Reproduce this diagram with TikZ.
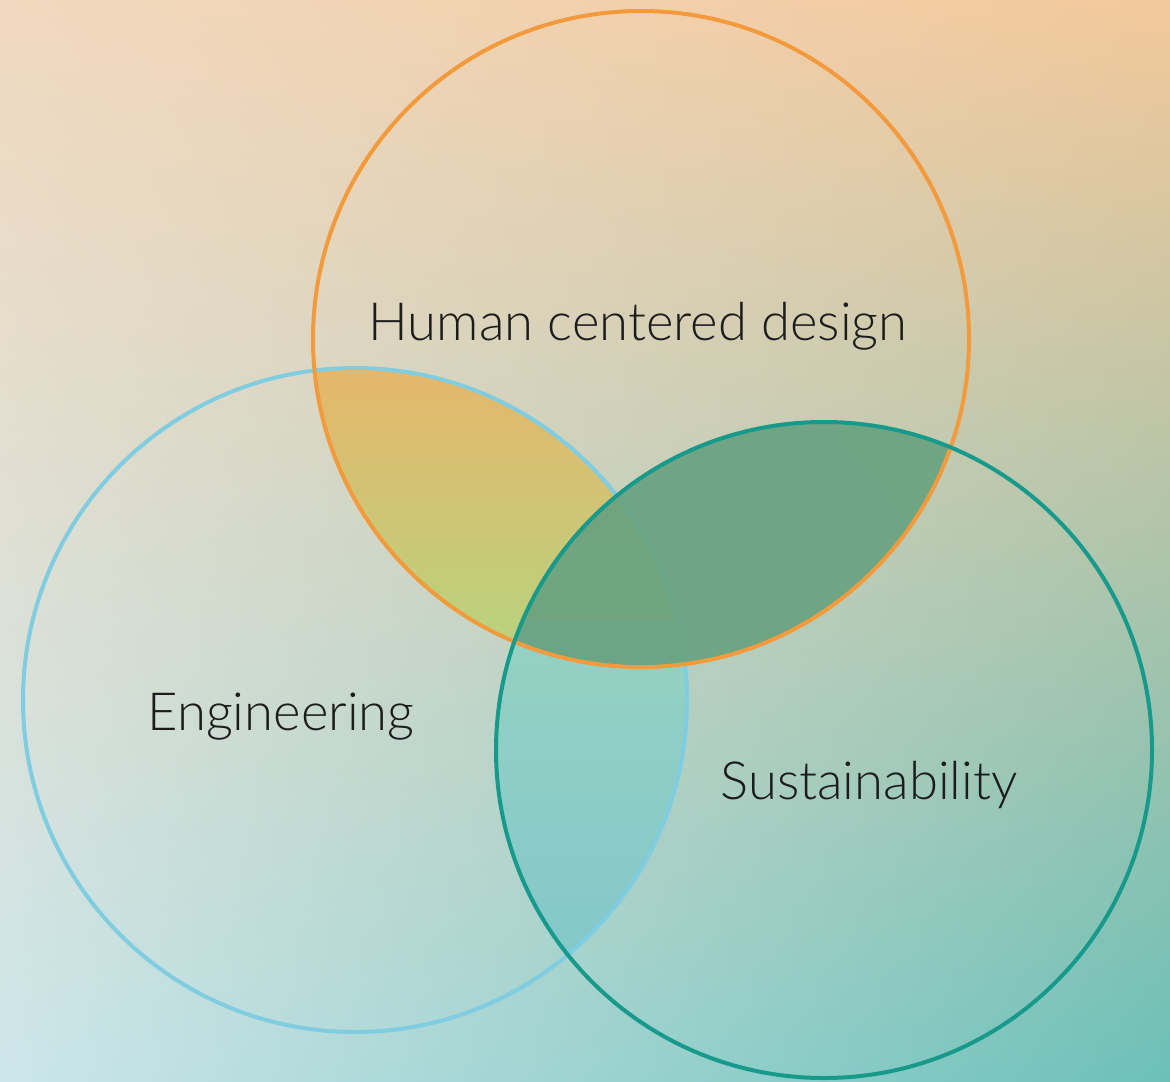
\documentclass[tikz,border=0pt]{standalone}
\usepackage{fontspec}
\setmainfont{Lato}[UprightFont=* Light]
\usetikzlibrary{shadings}
\definecolor{bgul}{HTML}{F1D9BF}
\definecolor{bgur}{HTML}{F3C89B}
\definecolor{bgll}{HTML}{CDE6EA}
\definecolor{bglr}{HTML}{6CC0B8}
\definecolor{hcdline}{HTML}{F29A3C}
\definecolor{engline}{HTML}{80CCE0}
\definecolor{susline}{HTML}{179A8B}
\definecolor{heTop}{HTML}{E7B66A}
\definecolor{heBot}{HTML}{B8D37E}
\definecolor{esTop}{HTML}{96D2C2}
\definecolor{esBot}{HTML}{82C7CA}
\definecolor{hsFill}{HTML}{68A280}
\definecolor{ink}{HTML}{1C1C1C}

\begin{document}
\begin{tikzpicture}
    [x=0.5pt, y=-0.5pt,
    ring/.style={line width=2pt},
    tag/.style={anchor=base, inner sep=0pt, text=ink,
      font=\fontsize{26.3}{30}\selectfont}]
    \useasboundingbox (0,0) rectangle (1170,1081);
    \shade[upper left=bgul, upper right=bgur,
      lower left=bgll, lower right=bglr] (0,0) rectangle (1170,1081);
    \coordinate (hcd) at (641,339);
    \coordinate (eng) at (355,700);
    \coordinate (sus) at (824,750);
    % overlaps
    \begin{scope}
      \clip (hcd) circle [radius=328];
      \clip (eng) circle [radius=332];
      \shade[top color=heTop, bottom color=heBot]
        (300,360) rectangle (700,650);
    \end{scope}
    \begin{scope}
      \clip (eng) circle [radius=332];
      \clip (sus) circle [radius=328];
      \shade[top color=esTop, bottom color=esBot]
        (490,620) rectangle (700,970);
    \end{scope}
    \draw[ring, engline] (eng) circle [radius=332];
    \begin{scope}
      \clip (hcd) circle [radius=328];
      \fill[hsFill, opacity=0.92] (sus) circle [radius=328];
    \end{scope}
    \draw[ring, hcdline] (hcd) circle [radius=328];
    \draw[ring, susline] (sus) circle [radius=328];
    % labels
    \node[tag] (hcdtag) at (638,340) {Human centered design};
    \node[tag] (engtag) at (281,730) {Engineering};
    \node[tag] (sustag) at (869,799) {Sustainability};
  \end{tikzpicture}
\end{document}
